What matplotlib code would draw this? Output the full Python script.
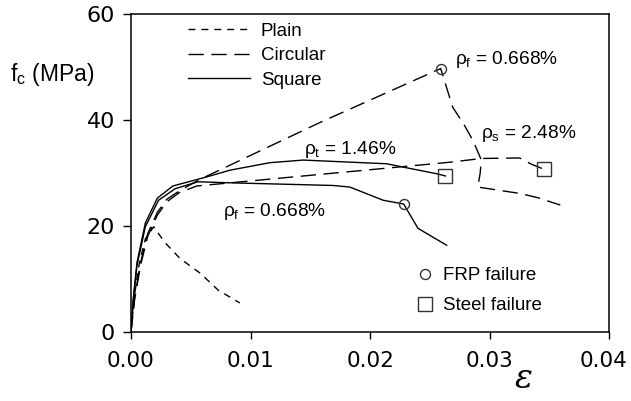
import matplotlib.pyplot as plt
from matplotlib.lines import Line2D
from matplotlib.transforms import ScaledTranslation

plt.rcParams['font.family'] = ['Liberation Sans', 'DejaVu Sans']
plt.rcParams['mathtext.fontset'] = 'custom'
plt.rcParams['mathtext.rm'] = 'Liberation Sans'
plt.rcParams['mathtext.it'] = 'Liberation Sans'

# plain concrete
plain_eps = [0, 0.0003, 0.0007, 0.0012, 0.0019, 0.0028, 0.0041, 0.0058, 0.0073, 0.0091]
plain_fc = [0, 7, 13, 17.5, 19.8, 16.9, 13.8, 11.0, 7.8, 5.4]

# circular, FRP wrapped (rho_f = 0.668%)
circ_frp_eps = [0, 0.0003, 0.0008, 0.0014, 0.0022, 0.003, 0.004, 0.005, 0.006, 0.0158, 0.0259,
                0.0269, 0.0278, 0.0286, 0.0293, 0.0292, 0.0290, 0.0325, 0.0340, 0.0359]
circ_frp_fc = [0, 6.5, 13, 18.5, 22.5, 25, 26.5, 27.8, 29, 39.5, 49.7,
               42.4, 39.3, 36.1, 32.4, 29.9, 27.3, 26.1, 25.3, 23.9]

# circular, steel confined (rho_s = 2.48%)
circ_st_eps = [0, 0.0003, 0.0008, 0.0014, 0.0022, 0.003, 0.004, 0.0055, 0.0083, 0.0267, 0.0293,
               0.0325, 0.0335, 0.0345]
circ_st_fc = [0, 6, 12.5, 18, 22, 24.5, 26.2, 27.5, 28.1, 32.0, 32.7, 32.8, 31.6, 30.7]

# square, FRP wrapped (rho_f = 0.668%)
sq_frp_eps = [0, 0.0002, 0.0005, 0.0012, 0.0023, 0.0037, 0.0056, 0.0083, 0.0169, 0.0183,
              0.0211, 0.0228, 0.024, 0.0264]
sq_frp_fc = [0, 6, 12.5, 19.8, 24.8, 27, 28.3, 28.1, 27.6, 27.3, 24.8, 24.1, 19.5, 16.3]

# square, tied (rho_t = 1.46%)
sq_tie_eps = [0, 0.0002, 0.0005, 0.0012, 0.0022, 0.0035, 0.0063, 0.0083, 0.0116, 0.0144,
              0.0214, 0.0227, 0.0256, 0.0263]
sq_tie_fc = [0, 6.5, 13, 20.5, 25.2, 27.5, 29.2, 30.5, 31.9, 32.4, 31.7, 31.1, 29.8, 29.4]

# failure points
frp_fail_eps = [0.0259, 0.0228]
frp_fail_fc = [49.7, 24.1]
steel_fail_eps = [0.0263, 0.0345]
steel_fail_fc = [29.4, 30.7]

x_ticks = [0.0, 0.01, 0.02, 0.03, 0.04]
y_ticks = [0, 20, 40, 60]

fig = plt.figure(figsize=(6.31, 4.01), dpi=100)
ax = fig.add_axes([0.2076, 0.1733, 0.758, 0.7917])

short_dash = (0, (5, 4.3))
long_dash = (0, (11, 5.5))
lw = 1.0

l_plain, = ax.plot(plain_eps, plain_fc, color='black', lw=lw, ls=short_dash)
l_circ, = ax.plot(circ_frp_eps, circ_frp_fc, color='black', lw=lw, ls=long_dash)
ax.plot(circ_st_eps, circ_st_fc, color='black', lw=lw, ls=long_dash)
l_sq, = ax.plot(sq_frp_eps, sq_frp_fc, color='black', lw=lw, ls='-')
ax.plot(sq_tie_eps, sq_tie_fc, color='black', lw=lw, ls='-')

ax.plot(frp_fail_eps, frp_fail_fc, ls='none', marker='o', ms=7.2, mfc='none',
        mec='#333333', mew=1.0)
ax.plot(steel_fail_eps, steel_fail_fc, ls='none', marker='s', ms=9.4, mfc='none',
        mec='#333333', mew=1.0)

ax.set_xlim(0, 0.04)
ax.set_ylim(0, 60)
ax.set_xticks(x_ticks)
ax.set_yticks(y_ticks)
ax.set_xticklabels([f'{v:.2f}' for v in x_ticks], family='DejaVu Sans', fontsize=15.5)
ax.set_yticklabels([str(v) for v in y_ticks], family='DejaVu Sans', fontsize=16)
ax.tick_params(axis='x', direction='out', length=5, width=1.0, pad=9)
ax.tick_params(axis='y', direction='out', length=6, width=1.0, pad=5.5)
for s in ax.spines.values():
    s.set_linewidth(1.1)

# keep the last strain label inside the figure edge
last = ax.get_xticklabels()[-1]
last.set_transform(last.get_transform() + ScaledTranslation(-4 / 72, 0, fig.dpi_scale_trans))

ax.text(-0.253, 0.808, 'f$_\\mathrm{c}$ (MPa)', transform=ax.transAxes, fontsize=16.5,
        ha='left', va='center')
ax.text(0.82, -0.15, '\u03b5', transform=ax.transAxes, fontsize=24, family='DejaVu Serif',
        style='italic', ha='center', va='center')

txt = dict(fontsize=13.8, ha='left', va='center')
ax.text(0.0271, 51.5, '$\\rho_\\mathrm{f}$ = 0.668%', **txt)
ax.text(0.0293, 37.5, '$\\rho_\\mathrm{s}$ = 2.48%', **txt)
ax.text(0.0145, 34.4, '$\\rho_\\mathrm{t}$ = 1.46%', **txt)
ax.text(0.0077, 22.6, '$\\rho_\\mathrm{f}$ = 0.668%', **txt)

leg1 = ax.legend([l_plain, l_circ, l_sq], ['Plain', 'Circular', 'Square'],
                 loc='upper left', bbox_to_anchor=(0.119, 0.972), frameon=False,
                 fontsize=13.5, handlelength=3.3, handletextpad=0.59, labelspacing=0.38,
                 borderpad=0, borderaxespad=0)
ax.add_artist(leg1)

h_frp = Line2D([], [], ls='none', marker='o', ms=7.2, mfc='none', mec='#333333', mew=1.0)
h_st = Line2D([], [], ls='none', marker='s', ms=9.4, mfc='none', mec='#333333', mew=1.0)
ax.legend([h_frp, h_st], ['FRP failure', 'Steel failure'], loc='upper left',
          bbox_to_anchor=(0.5946, 0.203), frameon=False, fontsize=13.5, handlelength=1.0,
          handletextpad=0.46, labelspacing=0.7, borderpad=0, borderaxespad=0)

fig.savefig('out.png', dpi=100)
